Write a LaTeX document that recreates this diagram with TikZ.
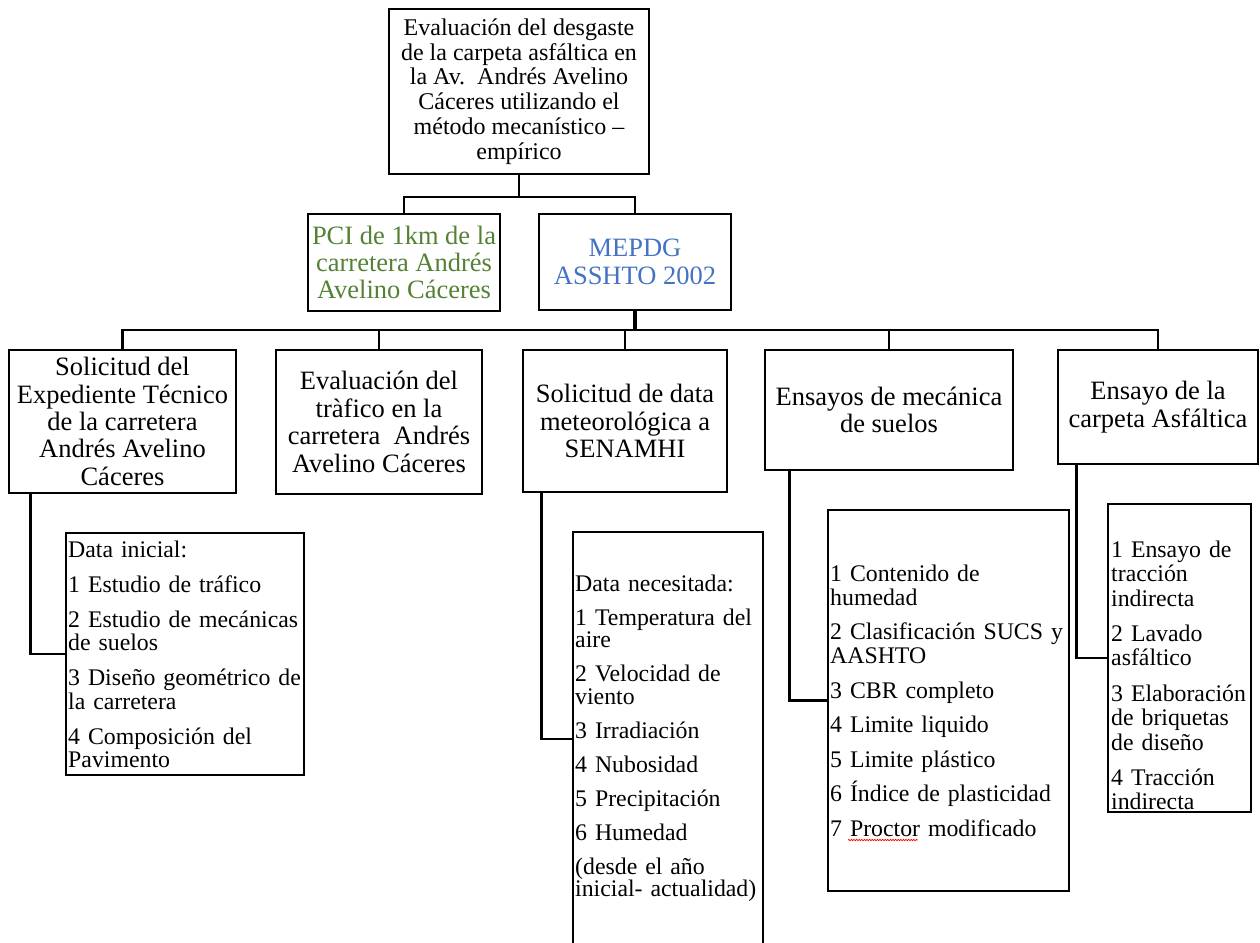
\documentclass[tikz,border=0pt]{standalone}
\usepackage{fontspec}
\setmainfont{Liberation Serif}
\usetikzlibrary{decorations.pathmorphing}
\definecolor{pcigreen}{HTML}{548235}
\definecolor{mepblue}{HTML}{4472C4}
\newcommand\tightlines{\lineskiplimit=-100pt\relax}
\begin{document}
\begin{tikzpicture}[x=1pt,y=-1pt,
  box/.style={draw, line width=2.7pt, inner sep=0pt, align=center},
  topfont/.style={font={\fontsize{24}{24.7}\selectfont\tightlines}},
  lvlfont/.style={font={\fontsize{26.5}{27.4}\selectfont\tightlines}},
  dbox/.style={draw, line width=2.7pt, inner sep=0pt},
  dtext/.style={anchor=base west, inner sep=0pt, align=left, text width=300pt,
    font={\fontsize{23.8}{#1}\selectfont\tightlines}},
  conn/.style={line width=2.4pt}]
\useasboundingbox (0,0) rectangle (1260,942);
\clip (0,0) rectangle (1260,942);
\fill[white] (0,0) rectangle (1260,942);

% top
\node[box, topfont, minimum width=260pt, minimum height=165pt] (top) at (519,91.5)
  {Evaluación del desgaste\\de la carpeta asfáltica en\\la Av.\ \ Andrés Avelino\\Cáceres utilizando el\\método mecanístico –\\empírico};

% second level
\node[box, lvlfont, text=pcigreen, minimum width=192pt, minimum height=97pt] (pci) at (404,262.5)
  {PCI de 1km de la\\carretera Andrés\\Avelino Cáceres};
\node[box, lvlfont, text=mepblue, minimum width=192pt, minimum height=96pt] (mep) at (635,262)
  {MEPDG\\ASSHTO 2002};

% third level
\node[box, lvlfont, minimum width=227pt, minimum height=143pt] (b1) at (122.5,421.5)
  {Solicitud del\\Expediente Técnico\\de la carretera\\Andrés Avelino\\Cáceres};
\node[box, lvlfont, minimum width=206pt, minimum height=144pt] (b2) at (379,422)
  {Evaluación del\\tràfico en la\\carretera\ \ Andrés\\Avelino Cáceres};
\node[box, lvlfont, minimum width=204pt, minimum height=142pt] (b3) at (625,421)
  {Solicitud de data\\meteorológica a\\SENAMHI};
\node[box, lvlfont, minimum width=248pt, minimum height=120pt] (b4) at (889,410)
  {Ensayos de mecánica\\de suelos};
\node[box, lvlfont, minimum width=200pt, minimum height=114pt] (b5) at (1158,407)
  {Ensayo de la\\carpeta Asfáltica};

% detail boxes
\node[dbox, minimum width=238pt, minimum height=242pt] (d1) at (185,654) {};
\node[dbox, minimum width=190pt, minimum height=414pt] (d3) at (668,739) {};
\node[dbox, minimum width=241pt, minimum height=381pt] (d4) at (948.5,700.5) {};
\node[dbox, minimum width=143pt, minimum height=308pt] (d5) at (1179.5,658) {};

\node[dtext=23.5] (t1) at (68,557)
  {Data inicial:\\[11.5pt]1 Estudio de tráfico\\[11.5pt]2 Estudio de mecánicas\\de suelos\\[11.5pt]3 Diseño geométrico de\\la carretera\\[11.5pt]4 Composición del\\Pavimento};
\node[dtext=22.5] (t3) at (575,591)
  {Data necesitada:\\[11.5pt]1 Temperatura del\\aire\\[11.5pt]2 Velocidad de\\viento\\[11.5pt]3 Irradiación\\[11.5pt]4 Nubosidad\\[11.5pt]5 Precipitación\\[11.5pt]6 Humedad\\[11.5pt](desde el año\\inicial- actualidad)};
\node[dtext=24] (t4) at (830,581)
  {1 Contenido de\\humedad\\[10.5pt]2 Clasificación SUCS y\\AASHTO\\[10.5pt]3 CBR completo\\[10.5pt]4 Limite liquido\\[10.5pt]5 Limite plástico\\[10.5pt]6 Índice de plasticidad\\[10.5pt]7 Proctor modificado};
\node[dtext=24.5] (t5) at (1111,557)
  {1 Ensayo de\\tracción\\indirecta\\[10.8pt]2 Lavado\\asfáltico\\[10.8pt]3 Elaboración\\de briquetas\\de diseño\\[10.8pt]4 Tracción\\indirecta};

% spell-check underline
\draw[red, line width=0.7pt, decorate, decoration={snake, amplitude=0.7pt, segment length=2.6pt}]
  (848,840) -- (918,840);

% connectors
\coordinate (j1) at (519,197);
\coordinate (j2) at (635,330);
\draw[conn] (top.south) -- (j1);
\draw[conn] (pci.north) |- (j1) -| (mep.north);
\draw[conn, line width=3.2pt] (mep.south) -- (j2);
\draw[conn] (b1.north) |- (j2) -| (b5.north);
\draw[conn] (j2) -| (b2.north);
\draw[conn] (j2) -| (b3.north);
\draw[conn] (j2) -| (b4.north);

\draw[conn] ([xshift=23pt]b1.south west) |- (d1.west);
\draw[conn] ([xshift=20pt]b3.south west) |- (d3.west);
\draw[conn] ([xshift=26pt]b4.south west) |- (d4.west);
\draw[conn] ([xshift=20pt]b5.south west) |- (d5.west);
\end{tikzpicture}
\end{document}
